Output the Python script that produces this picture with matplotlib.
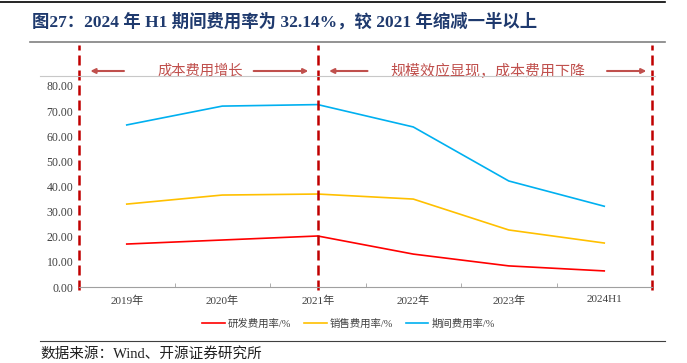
import matplotlib.pyplot as plt
import matplotlib.transforms as mtransforms
from matplotlib.lines import Line2D

plt.rcParams["font.family"] = ["Liberation Serif", "Noto Sans CJK SC", "DejaVu Sans"]

years = ["2019年", "2020年", "2021年", "2022年", "2023年", "2024H1"]
rd_rate = [17.1, 18.7, 20.3, 13.1, 8.4, 6.4]
sales_rate = [33.0, 36.6, 37.0, 35.0, 22.7, 17.5]
period_rate = [64.5, 72.0, 72.6, 63.7, 42.2, 32.14]
labels = ["研发费用率/%", "销售费用率/%", "期间费用率/%"]

W, H = 687, 363
fig = plt.figure(figsize=(W / 100, H / 100), dpi=100)
ax = fig.add_axes([79 / W, 1 - 287 / H, (652 - 79) / W, (287 - 86) / H])

x = range(len(years))
ax.plot(x, rd_rate, color="#ff0000", lw=1.2, label=labels[0])
ax.plot(x, sales_rate, color="#ffc000", lw=1.2, label=labels[1])
ax.plot(x, period_rate, color="#00b0f0", lw=1.2, label=labels[2])

ax.set_xlim(-0.5, len(years) - 0.5)
ax.set_ylim(0, 80)
ax.set_yticks(range(0, 81, 10))
ax.set_yticklabels([f"{v:.2f}" for v in range(0, 81, 10)], fontsize=8.5, color="#404040")
ax.set_xticks(list(x))
ax.set_xticklabels(years, fontsize=8, color="#404040")
ax.set_xticks([i + 0.5 for i in range(len(years) - 1)], minor=True)
ax.tick_params(axis="x", which="major", length=0, pad=6)
ax.tick_params(axis="x", which="minor", length=3, direction="in", color="#a0a0a0")
ax.tick_params(axis="y", length=0, pad=4)
for s in ["top", "right", "left"]:
    ax.spines[s].set_visible(False)
ax.spines["bottom"].set_color("#a0a0a0")

leg = ax.legend(loc="upper center", bbox_to_anchor=(0.47, -0.11), ncol=3, frameon=False,
                fontsize=7.5, handlelength=2.2, columnspacing=1.2, handletextpad=0.3)
for t in leg.get_texts():
    t.set_color("#404040")

# dashed red separators and annotations
tr = mtransforms.blended_transform_factory(ax.transData, fig.transFigure)
for xv in [-0.5, 2, 5.5]:
    ax.plot([xv, xv], [1 - 290 / H, 1 - 45 / H], transform=tr, clip_on=False,
            color="#c00000", lw=1.8, ls=(0, (4, 2)))

ya = 1 - 71 / H
fig.add_artist(Line2D([40 / W, 655 / W], [1 - 76 / H, 1 - 76 / H], color="#c8c8c8", lw=0.8))
ann_color = "#c0504d"
arrows = [(0.0, -0.41), (1.3, 1.93), (2.55, 2.09), (5.0, 5.47)]
for x0, x1 in arrows:
    ax.annotate("", xy=(x1, ya), xytext=(x0, ya), xycoords=tr, textcoords=tr,
                arrowprops=dict(arrowstyle="-|>", color=ann_color, lw=1.5, mutation_scale=7))
ax.text(0.77, ya, "成本费用增长", transform=tr, ha="center", va="center",
        fontsize=10.3, color=ann_color, family=["Noto Sans CJK SC"])
ax.text(3.78, ya, "规模效应显现，成本费用下降", transform=tr, ha="center", va="center",
        fontsize=10.8, color=ann_color, family=["Noto Sans CJK SC"])

# title, rules and source
fig.add_artist(Line2D([0, 665 / W], [1 - 2 / H, 1 - 2 / H], color="black", lw=1.2))
fig.text(32 / W, 1 - 22 / H, "图27：2024 年 H1 期间费用率为 32.14%，较 2021 年缩减一半以上",
         fontsize=12.5, fontweight="bold", color="#1f3a6e", va="center")
fig.add_artist(Line2D([30 / W, 665 / W], [1 - 42 / H, 1 - 42 / H], color="#808080", lw=1.2))
fig.add_artist(Line2D([40 / W, 665 / W], [1 - 341 / H, 1 - 341 / H], color="#404040", lw=0.8))
fig.text(40 / W, 1 - 354 / H, "数据来源：Wind、开源证券研究所", fontsize=10.5, color="#202020", va="center")

fig.savefig("out.png", dpi=100)
